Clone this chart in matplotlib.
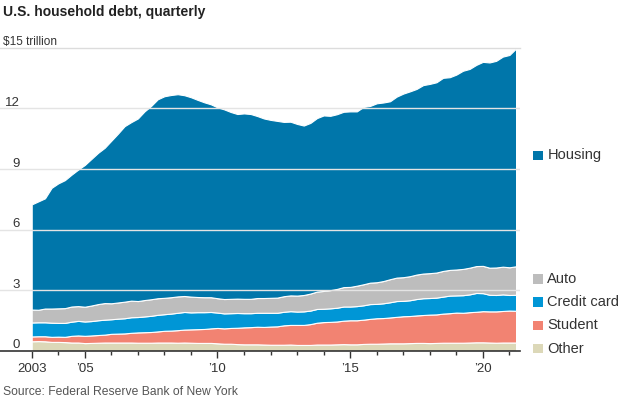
import numpy as np
import matplotlib
matplotlib.use('Agg')
import matplotlib.pyplot as plt
from matplotlib.patches import Rectangle
from matplotlib.transforms import offset_copy

plt.rcParams['font.family'] = ['Liberation Sans', 'DejaVu Sans']

# quarterly, 2003Q1 .. 2021Q2, $ trillion
quarters = 2003 + np.arange(74) / 4

other = [0.48, 0.49, 0.48, 0.45, 0.45, 0.44, 0.42, 0.42, 0.39, 0.40, 0.41, 0.42,
         0.42, 0.42, 0.42, 0.42, 0.41, 0.41, 0.41, 0.42, 0.42, 0.42, 0.41, 0.42,
         0.41, 0.40, 0.40, 0.40, 0.38, 0.36, 0.36, 0.34, 0.33, 0.33, 0.33, 0.32,
         0.31, 0.31, 0.31, 0.32, 0.30, 0.30, 0.30, 0.32, 0.32, 0.32, 0.33, 0.34,
         0.33, 0.33, 0.35, 0.36, 0.36, 0.37, 0.38, 0.38, 0.38, 0.39, 0.40, 0.40,
         0.39, 0.40, 0.41, 0.41, 0.41, 0.41, 0.42, 0.43, 0.43, 0.42, 0.41, 0.42,
         0.42, 0.42]
student = [0.24, 0.24, 0.25, 0.25, 0.26, 0.26, 0.33, 0.35, 0.36, 0.37, 0.38, 0.39,
           0.43, 0.44, 0.45, 0.48, 0.51, 0.52, 0.53, 0.55, 0.58, 0.59, 0.62, 0.64,
           0.66, 0.68, 0.69, 0.72, 0.76, 0.76, 0.78, 0.81, 0.84, 0.85, 0.87, 0.87,
           0.90, 0.91, 0.96, 0.97, 0.99, 0.99, 1.03, 1.08, 1.11, 1.12, 1.13, 1.16,
           1.19, 1.19, 1.20, 1.23, 1.26, 1.26, 1.28, 1.31, 1.34, 1.34, 1.36, 1.38,
           1.41, 1.41, 1.44, 1.46, 1.49, 1.48, 1.50, 1.51, 1.54, 1.54, 1.55, 1.56,
           1.58, 1.57]
credit_card = [0.69, 0.69, 0.69, 0.70, 0.68, 0.69, 0.70, 0.72, 0.71, 0.71, 0.73, 0.74,
               0.72, 0.74, 0.75, 0.77, 0.76, 0.78, 0.80, 0.82, 0.82, 0.84, 0.86, 0.87,
               0.84, 0.84, 0.83, 0.81, 0.76, 0.74, 0.73, 0.73, 0.70, 0.69, 0.69, 0.70,
               0.68, 0.67, 0.67, 0.68, 0.66, 0.67, 0.67, 0.68, 0.66, 0.67, 0.68, 0.70,
               0.68, 0.70, 0.71, 0.73, 0.71, 0.73, 0.75, 0.78, 0.76, 0.78, 0.81, 0.83,
               0.82, 0.83, 0.84, 0.87, 0.85, 0.87, 0.88, 0.93, 0.89, 0.82, 0.81, 0.82,
               0.77, 0.79]
auto = [0.64, 0.62, 0.68, 0.70, 0.72, 0.73, 0.75, 0.73, 0.73, 0.77, 0.80, 0.82,
        0.79, 0.80, 0.82, 0.82, 0.79, 0.81, 0.82, 0.82, 0.81, 0.81, 0.81, 0.79,
        0.78, 0.75, 0.74, 0.73, 0.71, 0.71, 0.71, 0.71, 0.71, 0.71, 0.73, 0.73,
        0.74, 0.75, 0.77, 0.78, 0.79, 0.81, 0.84, 0.86, 0.88, 0.90, 0.93, 0.96,
        0.97, 1.01, 1.04, 1.06, 1.07, 1.10, 1.14, 1.16, 1.17, 1.19, 1.21, 1.22,
        1.23, 1.24, 1.27, 1.27, 1.28, 1.30, 1.32, 1.33, 1.35, 1.34, 1.36, 1.37,
        1.37, 1.41]
housing = [5.20, 5.36, 5.45, 5.97, 6.18, 6.33, 6.52, 6.75, 7.01, 7.25, 7.48, 7.68,
           8.04, 8.35, 8.68, 8.83, 9.03, 9.33, 9.56, 9.84, 9.97, 10.00, 10.00, 9.93,
           9.86, 9.75, 9.64, 9.54, 9.44, 9.38, 9.24, 9.13, 9.17, 9.14, 9.00, 8.88,
           8.80, 8.74, 8.62, 8.59, 8.49, 8.38, 8.44, 8.58, 8.68, 8.62, 8.64, 8.67,
           8.68, 8.62, 8.77, 8.74, 8.85, 8.83, 8.80, 8.95, 9.08, 9.14, 9.18, 9.32,
           9.36, 9.41, 9.55, 9.53, 9.64, 9.80, 9.83, 9.95, 10.09, 10.15, 10.22, 10.39,
           10.50, 10.77]

series_names = ['Other', 'Student', 'Credit card', 'Auto', 'Housing']
colors = ['#dcd8b8', '#f28372', '#0096d6', '#bdbdbd', '#0076aa']

year_ticks = list(range(2003, 2022))
tick_labels = {2003: '2003', 2005: '\u201905', 2010: '\u201910', 2015: '\u201915', 2020: '\u201920'}
y_ticks = [0, 3, 6, 9, 12]

W, H = 620, 400
fig = plt.figure(figsize=(6.2, 4.0), dpi=100)
ax = fig.add_axes([0, 1 - 351 / H, 520 / W, (351 - 47.7) / H])

ax.stackplot(quarters, other, student, credit_card, auto, housing,
             colors=colors, edgecolor='white', linewidth=0.8, zorder=2)

ax.set_xlim(2003 - 31.7 / 26.54, 2003 + (520 - 31.7) / 26.54)
ax.set_ylim(0, 15)

# gridlines over the areas
for v in y_ticks[1:]:
    ax.axhline(v, color='#e4e4e4', lw=1, zorder=3)
ax.axhline(15, color='#dcdcdc', lw=1, zorder=3, clip_on=False)

for s in ['top', 'right', 'left']:
    ax.spines[s].set_visible(False)
ax.spines['bottom'].set_color('#333333')
ax.spines['bottom'].set_linewidth(1.2)
ax.spines['bottom'].set_zorder(4)

ax.set_yticks([])
ax.set_xticks([y for y in year_ticks if y in tick_labels])
ax.set_xticklabels([tick_labels[y] for y in year_ticks if y in tick_labels])
ax.set_xticks([y for y in year_ticks if y not in tick_labels], minor=True)
ax.tick_params(axis='x', which='major', length=5, width=1, color='#333333',
               labelsize=9.5, labelcolor='#333333', pad=4)
ax.tick_params(axis='x', which='minor', length=3, width=1, color='#333333')

# y labels sit above the gridlines at the left
lab_tr = offset_copy(ax.get_yaxis_transform(), fig=fig, x=0, y=2.5, units='dots')
for v in y_ticks:
    ax.text(20 / 520, v, str(v), transform=lab_tr, ha='right', va='baseline',
            fontsize=9.5, color='#333333', zorder=5)
ax.text(3 / 520, 15, '$15 trillion', transform=lab_tr, ha='left', va='baseline',
        fontsize=8.5, color='#333333')

# legend on the right
legend_y = [348.7, 325.3, 302, 278.8, 155.5]
for name, c, yc in zip(series_names, colors, legend_y):
    fig.add_artist(Rectangle((533.3 / W, 1 - (yc + 4.7) / H), 9.4 / W, 9.4 / H,
                             transform=fig.transFigure, color=c, lw=0))
    fig.text(547.3 / W, 1 - yc / H, name, ha='left', va='center',
             fontsize=10.5, color='#333333')

fig.text(3 / W, 1 - 12 / H, 'U.S. household debt, quarterly', ha='left', va='center',
         fontsize=10, fontweight='bold', color='#222222')
fig.text(3 / W, 1 - 392 / H, 'Source: Federal Reserve Bank of New York', ha='left',
         va='center', fontsize=8.7, color='#555555')

fig.savefig('out.png', dpi=100)
